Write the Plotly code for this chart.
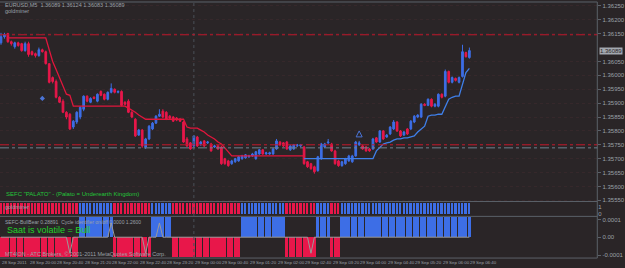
import plotly.graph_objects as go

# ---------------- data ----------------
time_labels = ["28 Sep 2011", "28 Sep 20:00", "28 Sep 20:40", "28 Sep 21:20", "28 Sep 22:00",
               "28 Sep 22:40", "28 Sep 23:20", "29 Sep 00:00", "29 Sep 00:40", "29 Sep 01:20",
               "29 Sep 02:00", "29 Sep 02:40", "29 Sep 03:20", "29 Sep 04:00", "29 Sep 04:40",
               "29 Sep 05:20", "29 Sep 06:00", "29 Sep 06:40"]
time_label_bars = [0, 8, 16, 24, 32, 40, 48, 56, 64, 72, 80, 88, 96, 104, 112, 120, 128, 136]

opens = [1.36117, 1.36139, 1.36150, 1.36121, 1.36103, 1.36117, 1.36114, 1.36089, 1.36114, 1.36085,
         1.36078, 1.36071, 1.36092, 1.36085, 1.36042, 1.35992, 1.35978, 1.35921, 1.35907, 1.35867,
         1.35860, 1.35814, 1.35832, 1.35850, 1.35878, 1.35925, 1.35903, 1.35921, 1.35907, 1.35942,
         1.35932, 1.35914, 1.35939, 1.35950, 1.35939, 1.35942, 1.35903, 1.35907, 1.35867, 1.35842,
         1.35785, 1.35803, 1.35742, 1.35771, 1.35807, 1.35828, 1.35853, 1.35871, 1.35867, 1.35853,
         1.35850, 1.35846, 1.35842, 1.35832, 1.35771, 1.35757, 1.35746, 1.35778, 1.35753, 1.35764,
         1.35757, 1.35753, 1.35742, 1.35746, 1.35742, 1.35700, 1.35692, 1.35682, 1.35689, 1.35692,
         1.35700, 1.35703, 1.35707, 1.35710, 1.35700, 1.35717, 1.35732, 1.35717, 1.35717, 1.35717,
         1.35735, 1.35760, 1.35757, 1.35760, 1.35732, 1.35735, 1.35746, 1.35746, 1.35742, 1.35689,
         1.35682, 1.35671, 1.35657, 1.35700, 1.35742, 1.35757, 1.35753, 1.35728, 1.35692, 1.35675,
         1.35682, 1.35692, 1.35689, 1.35710, 1.35750, 1.35746, 1.35742, 1.35735, 1.35735, 1.35775,
         1.35760, 1.35800, 1.35778, 1.35789, 1.35807, 1.35832, 1.35800, 1.35785, 1.35807, 1.35807,
         1.35832, 1.35850, 1.35850, 1.35896, 1.35892, 1.35914, 1.35889, 1.35889, 1.35932, 1.35925,
         1.36014, 1.35975, 1.35989, 1.35975, 1.35996, 1.36082, 1.36064]
highs = [1.36153, 1.36153, 1.36153, 1.36125, 1.36121, 1.36121, 1.36117, 1.36121, 1.36121, 1.36089,
         1.36082, 1.36100, 1.36096, 1.36089, 1.36042, 1.35996, 1.35985, 1.35925, 1.35914, 1.35871,
         1.35864, 1.35839, 1.35871, 1.35889, 1.35928, 1.35928, 1.35921, 1.35925, 1.35935, 1.35946,
         1.35935, 1.35942, 1.35971, 1.35953, 1.35946, 1.35946, 1.35907, 1.35914, 1.35871, 1.35846,
         1.35807, 1.35807, 1.35775, 1.35821, 1.35832, 1.35857, 1.35878, 1.35878, 1.35871, 1.35857,
         1.35853, 1.35850, 1.35846, 1.35835, 1.35778, 1.35760, 1.35785, 1.35782, 1.35764, 1.35767,
         1.35764, 1.35757, 1.35750, 1.35750, 1.35746, 1.35703, 1.35696, 1.35696, 1.35703, 1.35710,
         1.35714, 1.35717, 1.35714, 1.35721, 1.35728, 1.35735, 1.35735, 1.35725, 1.35725, 1.35739,
         1.35771, 1.35764, 1.35760, 1.35764, 1.35750, 1.35753, 1.35753, 1.35753, 1.35746, 1.35692,
         1.35685, 1.35675, 1.35710, 1.35757, 1.35757, 1.35771, 1.35757, 1.35732, 1.35696, 1.35692,
         1.35703, 1.35714, 1.35714, 1.35764, 1.35764, 1.35750, 1.35746, 1.35739, 1.35775, 1.35778,
         1.35803, 1.35803, 1.35789, 1.35817, 1.35839, 1.35835, 1.35803, 1.35800, 1.35810, 1.35839,
         1.35857, 1.35860, 1.35900, 1.35900, 1.35917, 1.35917, 1.35900, 1.35935, 1.35935, 1.36021,
         1.36017, 1.35996, 1.35992, 1.35996, 1.36110, 1.36085, 1.36100]
lows = [1.36110, 1.36132, 1.36117, 1.36107, 1.36096, 1.36103, 1.36085, 1.36085, 1.36067, 1.36071,
        1.36064, 1.36067, 1.36082, 1.36039, 1.35971, 1.35971, 1.35917, 1.35900, 1.35864, 1.35842,
        1.35803, 1.35807, 1.35825, 1.35842, 1.35871, 1.35903, 1.35900, 1.35914, 1.35903, 1.35925,
        1.35910, 1.35910, 1.35935, 1.35935, 1.35935, 1.35889, 1.35892, 1.35864, 1.35846, 1.35778,
        1.35782, 1.35739, 1.35735, 1.35767, 1.35803, 1.35825, 1.35850, 1.35846, 1.35839, 1.35842,
        1.35832, 1.35835, 1.35832, 1.35757, 1.35742, 1.35732, 1.35742, 1.35742, 1.35746, 1.35742,
        1.35753, 1.35725, 1.35739, 1.35732, 1.35678, 1.35678, 1.35671, 1.35678, 1.35685, 1.35689,
        1.35696, 1.35700, 1.35703, 1.35707, 1.35696, 1.35714, 1.35714, 1.35714, 1.35714, 1.35714,
        1.35732, 1.35746, 1.35742, 1.35732, 1.35728, 1.35732, 1.35742, 1.35742, 1.35678, 1.35667,
        1.35660, 1.35646, 1.35653, 1.35696, 1.35739, 1.35753, 1.35725, 1.35678, 1.35671, 1.35671,
        1.35678, 1.35689, 1.35685, 1.35707, 1.35746, 1.35732, 1.35725, 1.35725, 1.35732, 1.35757,
        1.35757, 1.35767, 1.35775, 1.35785, 1.35803, 1.35796, 1.35778, 1.35782, 1.35785, 1.35803,
        1.35828, 1.35846, 1.35846, 1.35889, 1.35889, 1.35885, 1.35885, 1.35885, 1.35917, 1.35921,
        1.35971, 1.35971, 1.35978, 1.35971, 1.35992, 1.36064, 1.36060]
closes = [1.36139, 1.36146, 1.36121, 1.36114, 1.36117, 1.36107, 1.36089, 1.36114, 1.36075, 1.36075,
          1.36071, 1.36092, 1.36085, 1.36042, 1.35975, 1.35978, 1.35921, 1.35903, 1.35867, 1.35850,
          1.35807, 1.35835, 1.35867, 1.35885, 1.35925, 1.35907, 1.35917, 1.35917, 1.35932, 1.35928,
          1.35914, 1.35939, 1.35953, 1.35939, 1.35942, 1.35892, 1.35896, 1.35867, 1.35850, 1.35782,
          1.35803, 1.35746, 1.35771, 1.35817, 1.35828, 1.35853, 1.35860, 1.35850, 1.35842, 1.35846,
          1.35835, 1.35839, 1.35835, 1.35760, 1.35746, 1.35735, 1.35782, 1.35746, 1.35760, 1.35746,
          1.35760, 1.35728, 1.35746, 1.35735, 1.35682, 1.35682, 1.35675, 1.35692, 1.35700, 1.35707,
          1.35710, 1.35714, 1.35710, 1.35717, 1.35725, 1.35732, 1.35717, 1.35721, 1.35721, 1.35735,
          1.35764, 1.35750, 1.35746, 1.35735, 1.35746, 1.35750, 1.35750, 1.35750, 1.35682, 1.35671,
          1.35664, 1.35653, 1.35707, 1.35753, 1.35753, 1.35760, 1.35728, 1.35682, 1.35675, 1.35689,
          1.35700, 1.35710, 1.35710, 1.35760, 1.35757, 1.35735, 1.35728, 1.35728, 1.35771, 1.35760,
          1.35800, 1.35771, 1.35785, 1.35814, 1.35832, 1.35800, 1.35782, 1.35796, 1.35789, 1.35835,
          1.35853, 1.35857, 1.35896, 1.35892, 1.35914, 1.35889, 1.35896, 1.35932, 1.35921, 1.36014,
          1.35975, 1.35992, 1.35982, 1.35992, 1.36085, 1.36067, 1.36089]

# trailing stop line: red while bearish, blue while bullish
trail_red = ([None, None] + [1.36135] * 12 +
             [1.36092, 1.36050, 1.36021, 1.35989, 1.35960, 1.35932, 1.35928] +
             [1.35889] * 16 +
             [1.35882, 1.35875, 1.35867, 1.35857, 1.35850] +
             [1.35842] * 12 +
             [1.35814, 1.35810, 1.35810, 1.35810, 1.35803, 1.35796, 1.35785, 1.35778,
              1.35771, 1.35760, 1.35753, 1.35739, 1.35725] +
             [1.35710] * 22 +
             [None] * 48)
trail_blue = ([None] * 88 + [1.35700] * 21 +
              [1.35728, 1.35742, 1.35753, 1.35757, 1.35760, 1.35767, 1.35771, 1.35771,
               1.35775, 1.35775, 1.35778, 1.35782, 1.35796, 1.35807, 1.35817, 1.35853,
               1.35857, 1.35857, 1.35860, 1.35860, 1.35885, 1.35914, 1.35921, 1.35925,
               1.35925, 1.35967, 1.36010, 1.36025])

# 1 = bull, 0 = bear (indicator state per bar)
bull_state = ([0] * 23 + [1] * 10 + [0] * 11 + [1] * 6 + [0] * 20 +
              [1] * 13 + [0] * 9 + [1] * 4 + [0] * 3 + [1] * 38)
# cycle identifier line
cycle_line = ([0.0] * 20 + [-0.00009] + [0.0] * 11 + [0.00008] + [0.0] * 9 + [-0.00009] +
              [0.0] * 3 + [0.00008] + [0.0] * 43 + [-0.00009] + [0.0] * 46)

price_ticks = [1.3625, 1.3620, 1.3615, 1.3605, 1.3600, 1.3595, 1.3590, 1.3585,
               1.3580, 1.3575, 1.3570, 1.3565, 1.3560, 1.3555]
last_price = 1.36089
levels_red = [1.36146, 1.35750]
levels_grey = [1.35739]
dot_bars = [12]
dot_prices = [1.35917]
arrow_bars = [104]
arrow_prices = [1.35800]

# ---------------- layout helpers ----------------
W, H = 625, 268
XR = 607 / W
def fy(px):
    return 1 - px / H

n = len(closes)
idx = list(range(n))
BG = "#2a2527"
GREY = "#9ba1a8"
BLUE = "#3d6ee6"
RED = "#e8174a"
AX = "#5b6169"

fig = go.Figure()

fig.add_trace(go.Candlestick(
    x=idx, open=opens, high=highs, low=lows, close=closes,
    increasing=dict(line=dict(color=BLUE, width=1), fillcolor=BLUE),
    decreasing=dict(line=dict(color=RED, width=1), fillcolor=RED),
    whiskerwidth=0, xaxis="x", yaxis="y", showlegend=False, hoverinfo="skip"))
fig.add_trace(go.Scatter(x=idx, y=trail_red, mode="lines", line=dict(color="#e0163c", width=1.3),
                         xaxis="x", yaxis="y", showlegend=False, hoverinfo="skip"))
fig.add_trace(go.Scatter(x=idx, y=trail_blue, mode="lines", line=dict(color="#3f7fe8", width=1.3),
                         xaxis="x", yaxis="y", showlegend=False, hoverinfo="skip"))
fig.add_trace(go.Scatter(x=dot_bars, y=dot_prices, mode="markers",
                         marker=dict(symbol="diamond", size=4, color="#4b74d6"),
                         xaxis="x", yaxis="y", showlegend=False, hoverinfo="skip"))
fig.add_trace(go.Scatter(x=arrow_bars, y=arrow_prices, mode="markers",
                         marker=dict(symbol="arrow-up-open", size=6, color="#4b74d6",
                                     line=dict(width=1, color="#4b74d6")),
                         xaxis="x", yaxis="y", showlegend=False, hoverinfo="skip"))

colsA = [BLUE if s else RED for s in bull_state]
fig.add_trace(go.Bar(x=idx, y=[1] * n, base=0, width=0.55, marker=dict(color=colsA, line=dict(width=0)),
                     xaxis="x2", yaxis="y2", showlegend=False, hoverinfo="skip"))
valsB = [0.000112 if s else -0.000112 for s in bull_state]
fig.add_trace(go.Bar(x=idx, y=valsB, width=0.9, marker=dict(color=colsA, line=dict(width=0)),
                     xaxis="x3", yaxis="y3", showlegend=False, hoverinfo="skip"))
fig.add_trace(go.Scatter(x=idx, y=cycle_line, mode="lines", line=dict(color="#9a9a9a", width=1),
                         xaxis="x3", yaxis="y3", showlegend=False, hoverinfo="skip"))

xr = [-0.29, 173.14]
common_x = dict(range=xr, showticklabels=False, showgrid=False, zeroline=False,
                showline=False, fixedrange=True)
fig.update_layout(
    width=W, height=H, margin=dict(l=0, r=0, t=0, b=0),
    paper_bgcolor=BG, plot_bgcolor=BG, bargap=0,
    xaxis=dict(domain=[0, XR], anchor="y", rangeslider=dict(visible=False), **common_x),
    xaxis2=dict(domain=[0, XR], anchor="y2", **common_x),
    xaxis3=dict(domain=[0, XR], anchor="y3", **common_x),
    yaxis=dict(domain=[fy(203), fy(2)], anchor="x", side="right", range=[1.35546, 1.36264],
               tickvals=price_ticks, tickformat=".5f", ticks="outside", ticklen=3, tickcolor=AX,
               tickfont=dict(family="Liberation Sans", size=6, color=GREY),
               showgrid=True, gridcolor="#36282b", griddash="dot", gridwidth=1, zeroline=False),
    yaxis2=dict(domain=[fy(218), fy(203)], anchor="x2", side="right", range=[-0.15, 1.15],
                tickvals=[0.72, 0.11], ticktext=["1", "0"], ticks="",
                tickfont=dict(family="Liberation Sans", size=6, color=GREY),
                showgrid=False, zeroline=False),
    yaxis3=dict(domain=[fy(260), fy(218)], anchor="x3", side="right", range=[-0.000117, 0.000117],
                tickvals=[0.0001, 0, -0.0001], ticktext=["0.0001", "0.00", "-0.0001"],
                ticks="outside", ticklen=3, tickcolor=AX,
                tickfont=dict(family="Liberation Sans", size=6, color=GREY),
                showgrid=False, zeroline=False),
)

shapes = []
# panel borders
for py in [2, 203, 218, 260]:
    shapes.append(dict(type="line", xref="paper", yref="paper", x0=0, x1=XR, y0=fy(py), y1=fy(py),
                       line=dict(color=AX, width=1)))
shapes.append(dict(type="line", xref="paper", yref="paper", x0=XR, x1=XR, y0=fy(260), y1=fy(2),
                   line=dict(color=AX, width=1)))
# day separator
shapes.append(dict(type="line", xref="x", yref="paper", x0=56, x1=56, y0=fy(260), y1=fy(2),
                   line=dict(color="#4a5058", width=1, dash="dot")))
for lv in levels_red:
    shapes.append(dict(type="line", xref="paper", yref="y", x0=0, x1=XR, y0=lv, y1=lv,
                       line=dict(color="#c0182c", width=1, dash="dashdot")))
for lv in levels_grey:
    shapes.append(dict(type="line", xref="paper", yref="y", x0=0, x1=XR, y0=lv, y1=lv,
                       line=dict(color="#6f8290", width=1, dash="dashdot")))
fig.update_layout(shapes=shapes)

ann = []
def text(x, py, s, size=6, color=GREY, anchor="left"):
    ann.append(dict(xref="paper", yref="paper", x=x / W, y=fy(py), text=s, showarrow=False,
                    xanchor=anchor, yanchor="middle",
                    font=dict(family="Liberation Sans", size=size, color=color)))

text(3, 5, "EURUSD,M5  1.36089 1.36124 1.36083 1.36089", size=5.5)
text(3, 11, "goldminer", size=5.5)
text(4, 195, "SEFC \"PALATO\" - (Palato = Underearth Kingdom)", size=6, color="#23c43a")
text(3, 209, "goldminer", size=5.5)
text(3, 224, "SEFC-BullBear 0.28891  Cycle identifier on/off 0.0000 1.2600", size=5)
text(5, 232, "Saat is volatile = Bull", size=9, color="#22d02a")
text(3, 256, "MT4ION - ATC Brokers, © 2001-2011 MetaQuotes Software Corp.", size=5.5)
for b, lab in zip(time_label_bars, time_labels):
    ann.append(dict(xref="x3", yref="paper", x=b, y=fy(264), text=lab, showarrow=False,
                    xanchor="left", yanchor="middle", xshift=-1,
                    font=dict(family="Liberation Sans", size=4.4, color=GREY)))
ann.append(dict(xref="paper", yref="y", x=XR + 2 / W, y=last_price, text="1.36089", showarrow=False,
                xanchor="left", yanchor="middle", bgcolor="#a3a8b0", borderpad=0,
                font=dict(family="Liberation Sans", size=6, color="#2a2527")))
fig.update_layout(annotations=ann)

fig.write_html("out.html")
